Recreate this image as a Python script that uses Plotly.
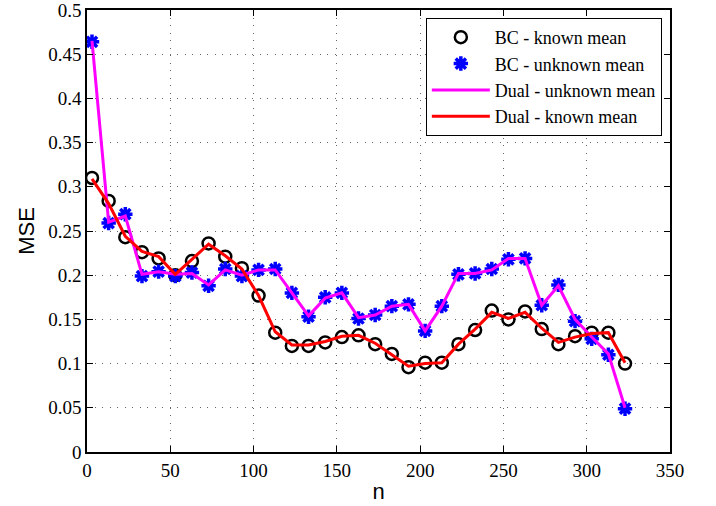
import plotly.graph_objects as go

n = [3, 13, 23, 33, 43, 53, 63, 73, 83, 93, 103, 113, 123, 133, 143, 153, 163,
     173, 183, 193, 203, 213, 223, 233, 243, 253, 263, 273, 283, 293, 303, 313, 323]

bc_known = [0.310, 0.284, 0.243, 0.226, 0.219, 0.200, 0.216, 0.236, 0.221, 0.208, 0.177,
            0.135, 0.120, 0.120, 0.124, 0.130, 0.132, 0.122, 0.111, 0.096, 0.101, 0.101,
            0.122, 0.138, 0.160, 0.150, 0.159, 0.139, 0.122, 0.131, 0.135, 0.135, 0.100]

dual_known = [0.309, 0.281, 0.244, 0.227, 0.221, 0.201, 0.218, 0.235, 0.222, 0.207, 0.177,
              0.136, 0.121, 0.121, 0.125, 0.131, 0.132, 0.123, 0.110, 0.097, 0.100, 0.101,
              0.122, 0.139, 0.158, 0.151, 0.158, 0.140, 0.124, 0.130, 0.134, 0.135, 0.101]

bc_unknown = [0.464, 0.259, 0.269, 0.199, 0.204, 0.199, 0.203, 0.188, 0.207, 0.199, 0.206,
              0.207, 0.180, 0.153, 0.175, 0.180, 0.151, 0.155, 0.165, 0.167, 0.137, 0.165,
              0.201, 0.202, 0.207, 0.218, 0.219, 0.166, 0.189, 0.148, 0.128, 0.110, 0.049]

dual_unknown = [0.465, 0.260, 0.267, 0.201, 0.204, 0.201, 0.202, 0.189, 0.206, 0.200, 0.206,
                0.206, 0.180, 0.154, 0.174, 0.180, 0.152, 0.155, 0.165, 0.167, 0.137, 0.165,
                0.202, 0.202, 0.206, 0.219, 0.219, 0.166, 0.188, 0.150, 0.130, 0.111, 0.050]

x_ticks = [0, 50, 100, 150, 200, 250, 300, 350]
y_ticks = [0, 0.05, 0.1, 0.15, 0.2, 0.25, 0.3, 0.35, 0.4, 0.45, 0.5]
y_ticktext = ["0", "0.05", "0.1", "0.15", "0.2", "0.25", "0.3", "0.35", "0.4", "0.45", "0.5"]

SERIF = "Liberation Serif"
SANS = "Liberation Sans"

fig = go.Figure()
fig.add_trace(go.Scatter(x=n, y=bc_known, mode="markers", name="BC - known mean",
                         marker=dict(symbol="circle-open", size=12, color="black",
                                     line=dict(width=2.5, color="black"))))
fig.add_trace(go.Scatter(x=n, y=bc_unknown, mode="markers", name="BC - unknown mean",
                         marker=dict(symbol="asterisk-open", size=12, color="blue",
                                     line=dict(width=3.5, color="blue"))))
fig.add_trace(go.Scatter(x=n, y=dual_unknown, mode="lines", name="Dual - unknown mean",
                         line=dict(color="#ff00ff", width=3)))
fig.add_trace(go.Scatter(x=n, y=dual_known, mode="lines", name="Dual - known mean",
                         line=dict(color="#ff0000", width=3)))

axis_common = dict(showline=True, linecolor="black", linewidth=1.5, mirror="ticks",
                   ticks="inside", ticklen=6, tickcolor="black", automargin=False,
                   ticklabeloverflow="allow",
                   showgrid=True, gridcolor="#666666", griddash="1px,6.5px", gridwidth=1,
                   zeroline=False,
                   tickfont=dict(family=SERIF, size=19, color="black"))

fig.update_xaxes(range=[0, 350], tickvals=x_ticks, ticktext=[str(v) for v in x_ticks],
                 title=dict(text="n", font=dict(family=SANS, size=22, color="black"),
                            standoff=4),
                 **axis_common)
fig.update_yaxes(range=[0, 0.5], tickvals=y_ticks, ticktext=y_ticktext,
                 title=dict(text="MSE", font=dict(family=SANS, size=22, color="black"),
                            standoff=8),
                 **axis_common)

fig.update_layout(
    width=716, height=506,
    margin=dict(l=87, r=46, t=10, b=54),
    paper_bgcolor="white", plot_bgcolor="white",
    showlegend=True,
    legend=dict(x=0.986, y=0.982, xanchor="right", yanchor="top",
                bgcolor="white", bordercolor="black", borderwidth=1,
                font=dict(family=SERIF, size=18, color="black"),
                itemwidth=58, tracegroupgap=0),
)

fig.write_html("out.html", config={"displayModeBar": False},
               post_script="document.body.style.margin='0';document.body.style.padding='0';")
